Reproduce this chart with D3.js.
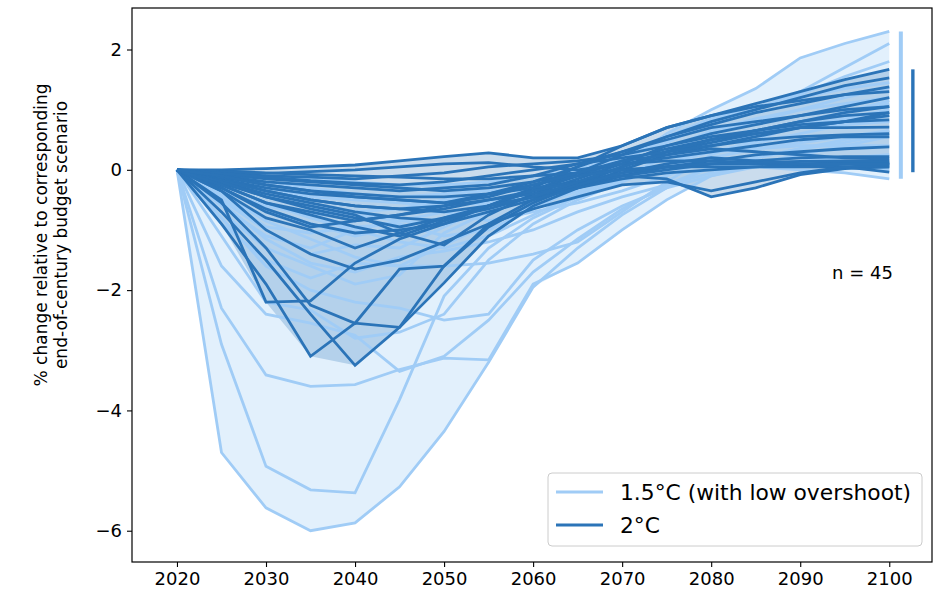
<!DOCTYPE html>
<html>
<head>
<meta charset="utf-8">
<script src="https://cdn.jsdelivr.net/npm/d3@7"></script>
<style>
  html, body { margin: 0; padding: 0; background: #fff; }
  svg { display: block; font-family: "DejaVu Sans", sans-serif; }
</style>
</head>
<body>
<svg id="chart" width="940" height="594"></svg>
<script>
// Model years shared by every scenario trajectory
const years = [2020, 2025, 2030, 2035, 2040, 2045, 2050, 2055, 2060, 2065, 2070, 2075, 2080, 2085, 2090, 2095, 2100];

// % change relative to the end-of-century budget scenario, 1.5°C (low overshoot) runs
const series15 = [
  [0,-4.70,-5.62,-6.00,-5.87,-5.27,-4.35,-3.20,-1.95,-1.30,-0.75,-0.30,0.05,0.20,0.35,0.50,0.65],
  [0,-2.90,-4.93,-5.32,-5.37,-3.82,-2.10,-1.30,-0.80,-0.45,-0.15,0.10,0.30,0.45,0.60,0.75,0.90],
  [0,-2.30,-3.41,-3.60,-3.57,-3.32,-3.13,-3.16,-1.90,-1.55,-1.00,-0.50,-0.10,0.10,0.25,0.40,0.55],
  [0,-1.60,-2.40,-2.55,-2.75,-3.35,-3.10,-2.50,-1.70,-1.15,-0.65,-0.25,0.05,0.20,0.35,0.45,0.60],
  [0,-1.10,-2.20,-2.33,-2.80,-2.70,-2.40,-1.50,-0.90,-0.50,-0.20,0.10,0.40,0.60,0.80,0.95,1.10],
  [0,-0.90,-1.50,-1.80,-1.55,-1.60,-1.60,-1.55,-1.40,-1.20,-0.70,-0.20,0.25,0.50,0.75,0.95,1.15],
  [0,-0.70,-1.30,-1.60,-1.90,-1.75,-1.05,-0.70,-0.45,-0.20,0.00,0.30,0.60,0.80,1.00,1.20,1.36],
  [0,-0.50,-1.00,-1.40,-1.25,-1.30,-0.95,-0.60,-0.30,-0.10,0.10,0.30,0.50,0.60,0.70,0.75,0.80],
  [0,-0.30,-0.70,-0.90,-1.10,-0.95,-0.80,-0.55,-0.40,-0.20,0.10,0.60,1.00,1.35,1.86,2.10,2.30],
  [0,-0.20,-0.45,-0.60,-0.75,-0.85,-0.90,-0.70,-0.45,-0.10,0.20,0.45,0.80,1.00,1.30,1.70,2.10],
  [0,-0.15,-0.30,-0.45,-0.50,-0.55,-0.60,-0.55,-0.30,0.00,0.25,0.50,0.75,1.00,1.25,1.55,1.80],
  [0,-0.25,-0.55,-0.80,-1.00,-1.20,-1.30,-1.10,-0.75,-0.40,-0.10,0.20,0.45,0.60,0.75,0.85,1.00],
  [0,-0.10,-0.20,-0.30,-0.40,-0.45,-0.40,-0.35,-0.30,-0.20,-0.10,0.00,0.10,0.05,0.00,-0.05,-0.15],
  [0,-0.40,-0.85,-1.15,-1.45,-1.60,-1.25,-0.90,-0.60,-0.35,-0.15,0.05,0.20,0.15,0.10,0.05,0.00],
  [0,-0.60,-1.10,-1.30,-1.00,-0.85,-0.70,-0.85,-0.70,-0.55,-0.35,-0.10,0.20,0.35,0.45,0.55,0.65],
  [0,-0.35,-0.60,-0.75,-0.70,-0.65,-0.50,-0.40,-0.30,-0.05,0.25,0.55,0.85,1.05,1.20,1.35,1.45],
  [0,-0.80,-1.60,-2.00,-2.20,-2.30,-2.50,-2.40,-1.50,-1.00,-0.60,-0.30,-0.10,0.05,0.15,0.20,0.25],
  [0,-0.05,-0.10,-0.15,-0.20,-0.25,-0.25,-0.20,-0.10,0.00,0.10,0.20,0.30,0.35,0.40,0.40,0.40],
  [0,-0.45,-0.95,-1.05,-0.95,-0.90,-1.10,-1.00,-0.65,-0.30,0.00,0.35,0.65,0.85,1.00,1.10,1.20],
  [0,-0.55,-1.15,-1.55,-1.70,-1.45,-1.35,-1.20,-1.00,-0.70,-0.45,-0.25,-0.05,0.05,0.10,0.12,0.10]
];

// Same measure for the 2°C runs
const series20 = [
  [0,-0.50,-2.20,-2.18,-1.55,-1.15,-0.90,-0.60,-0.35,-0.10,0.15,0.35,0.50,0.60,0.70,0.80,0.95],
  [0,-0.90,-1.90,-3.10,-2.55,-2.62,-1.88,-1.10,-0.60,-0.30,0.00,0.25,0.40,0.50,0.55,0.58,0.60],
  [0,-0.70,-1.50,-2.40,-3.25,-2.62,-1.60,-0.90,-0.50,-0.20,0.05,0.30,0.45,0.60,0.70,0.80,0.90],
  [0,-0.55,-1.30,-2.25,-2.55,-1.65,-1.60,-0.95,-0.55,-0.25,0.05,0.30,0.50,0.65,0.80,0.95,1.05],
  [0,-0.35,-0.80,-1.00,-1.30,-1.05,-1.25,-0.75,-0.40,-0.15,0.10,0.40,0.60,0.75,0.90,1.05,1.20],
  [0,-0.25,-0.55,-0.75,-0.95,-1.10,-0.85,-0.60,-0.35,-0.05,0.25,0.55,0.80,1.00,1.20,1.40,1.53],
  [0,-0.20,-0.40,-0.55,-0.70,-0.80,-0.85,-0.60,-0.30,0.05,0.40,0.70,0.90,1.10,1.30,1.50,1.67],
  [0,-0.15,-0.30,-0.40,-0.45,-0.50,-0.55,-0.40,-0.20,0.05,0.30,0.55,0.75,0.95,1.10,1.25,1.38],
  [0,-0.10,-0.20,-0.25,-0.30,-0.35,-0.30,-0.25,-0.10,0.10,0.30,0.50,0.70,0.80,0.90,1.00,1.05],
  [0,0.00,0.02,0.05,0.08,0.15,0.22,0.28,0.20,0.20,0.40,0.70,0.90,1.05,1.15,1.25,1.30],
  [0,-0.05,-0.10,-0.12,-0.15,-0.10,-0.05,0.05,0.10,0.15,0.25,0.40,0.55,0.65,0.75,0.80,0.83],
  [0,-0.08,-0.15,-0.20,-0.25,-0.30,-0.35,-0.30,-0.20,-0.05,0.10,0.20,0.30,0.40,0.50,0.55,0.55],
  [0,-0.15,-0.35,-0.50,-0.60,-0.65,-0.70,-0.60,-0.45,-0.30,-0.10,0.05,0.15,0.25,0.30,0.35,0.38],
  [0,-0.30,-0.70,-0.95,-0.85,-0.75,-0.65,-0.50,-0.40,-0.25,-0.10,0.00,0.10,0.15,0.20,0.22,0.22],
  [0,-0.12,-0.25,-0.35,-0.40,-0.45,-0.45,-0.40,-0.30,-0.20,-0.10,-0.15,-0.45,-0.30,-0.08,0.02,0.05],
  [0,-0.18,-0.35,-0.50,-0.60,-0.65,-0.60,-0.50,-0.35,-0.20,-0.05,0.05,0.10,0.10,0.10,0.12,0.12],
  [0,-0.30,-0.65,-0.90,-1.05,-1.00,-0.90,-0.70,-0.50,-0.30,-0.15,-0.05,0.00,0.05,0.08,0.10,0.10],
  [0,-0.02,-0.05,-0.08,-0.10,-0.12,-0.15,-0.15,-0.10,-0.05,0.00,0.05,0.05,0.05,0.05,0.05,0.05],
  [0,-0.22,-0.45,-0.60,-0.75,-1.05,-0.80,-0.65,-0.45,-0.25,-0.05,0.10,0.20,0.15,0.10,0.05,-0.04],
  [0,-0.35,-1.00,-1.40,-1.65,-1.50,-1.20,-0.90,-0.65,-0.45,-0.25,-0.20,-0.35,-0.20,-0.05,0.05,0.08],
  [0,-0.03,-0.06,-0.03,0.00,0.05,0.10,0.12,0.05,0.00,0.10,0.15,0.15,0.12,0.10,0.10,0.10],
  [0,-0.20,-0.45,-0.65,-0.80,-0.95,-0.80,-0.60,-0.45,-0.20,0.05,0.30,0.50,0.65,0.80,0.90,0.95],
  [0,-0.06,-0.12,-0.18,-0.22,-0.25,-0.20,-0.10,0.00,0.10,0.20,0.30,0.40,0.55,0.70,0.70,0.71],
  [0,-0.25,-0.55,-0.70,-0.85,-0.75,-0.60,-0.40,-0.25,-0.10,0.00,0.05,0.10,0.12,0.14,0.15,0.15],
  [0,-0.10,-0.25,-0.35,-0.45,-0.50,-0.55,-0.45,-0.25,-0.05,0.15,0.25,0.35,0.30,0.25,0.20,0.18]
];

const groupLabels = ["1.5°C (with low overshoot)", "2°C"];
const groupColors = ["#a0ccf6", "#2b74b8"];
const xTicks = [2020, 2030, 2040, 2050, 2060, 2070, 2080, 2090, 2100];
const yTicks = [2, 0, -2, -4, -6];
const sampleCount = series15.length + series20.length;

const svg = d3.select("#chart");
const plot = { left: 132, right: 932, top: 8, bottom: 562 };

const x = d3.scaleLinear().domain([2014.95, 2104.8]).range([plot.left, plot.right]);
const y = d3.scaleLinear().domain([-6.52, 2.69]).range([plot.bottom, plot.top]);

svg.append("defs").append("clipPath").attr("id", "plot-clip")
  .append("rect")
  .attr("x", plot.left).attr("y", plot.top)
  .attr("width", plot.right - plot.left).attr("height", plot.bottom - plot.top);

const body = svg.append("g").attr("clip-path", "url(#plot-clip)");
const groups = [series15, series20];

// min–max envelope for each group
const envelope = d3.area()
  .x(d => x(d.year))
  .y0(d => y(d.lo))
  .y1(d => y(d.hi));

groups.forEach((runs, g) => {
  const band = years.map((yr, i) => ({
    year: yr,
    lo: d3.min(runs, r => r[i]),
    hi: d3.max(runs, r => r[i])
  }));
  body.append("path")
    .datum(band)
    .attr("d", envelope)
    .attr("fill", groupColors[g])
    .attr("fill-opacity", g === 0 ? 0.3 : 0.25)
    .attr("stroke", "none");
});

// individual trajectories
const line = d3.line().x((d, i) => x(years[i])).y(d => y(d));
const lineLayer = body.append("g").attr("fill", "none").attr("stroke-width", 2.8)
  .attr("stroke-linejoin", "miter");
series15.forEach(r => {
  lineLayer.append("path").attr("d", line(r)).attr("stroke", groupColors[0]);
});
series20.forEach(r => {
  lineLayer.append("path").attr("d", line(r)).attr("stroke", groupColors[1]);
});

// end-of-century spread markers to the right of 2100
const spreadYears = [2101.3, 2102.65];
groups.forEach((runs, g) => {
  const ends = runs.map(r => r[r.length - 1]);
  body.append("line")
    .attr("x1", x(spreadYears[g])).attr("x2", x(spreadYears[g]))
    .attr("y1", y(d3.max(ends))).attr("y2", y(d3.min(ends)))
    .attr("stroke", groupColors[g])
    .attr("stroke-width", g === 0 ? 4 : 3.4);
});

// axes
const xAxis = svg.append("g")
  .attr("transform", `translate(0,${plot.bottom})`)
  .call(d3.axisBottom(x).tickValues(xTicks).tickFormat(d3.format("d")).tickSize(5).tickPadding(5));
const yAxis = svg.append("g")
  .attr("transform", `translate(${plot.left},0)`)
  .call(d3.axisLeft(y).tickValues(yTicks).tickSize(5).tickPadding(5));

[xAxis, yAxis].forEach(a => {
  a.select(".domain").remove();
  a.selectAll(".tick line").attr("stroke", "#000").attr("stroke-width", 1.1);
  a.selectAll(".tick text").attr("fill", "#000")
    .style("font-family", "DejaVu Sans, sans-serif").style("font-size", "18px");
});

// frame
svg.append("rect")
  .attr("x", plot.left).attr("y", plot.top)
  .attr("width", plot.right - plot.left).attr("height", plot.bottom - plot.top)
  .attr("fill", "none").attr("stroke", "#000").attr("stroke-width", 1.2);

// y label
const yLabel = svg.append("text")
  .attr("transform", "translate(0,235) rotate(-90)")
  .attr("text-anchor", "middle")
  .style("font-size", "17px")
  .attr("fill", "#000");
yLabel.append("tspan").attr("x", 0).attr("y", 47).text("% change relative to corresponding");
yLabel.append("tspan").attr("x", 0).attr("y", 67).text("end-of-century budget scenario");

// sample size annotation
svg.append("text")
  .attr("x", 832).attr("y", 279)
  .style("font-size", "18px")
  .attr("fill", "#000")
  .text(`n = ${sampleCount}`);

// legend
const legend = svg.append("g");
legend.append("rect")
  .attr("x", 548).attr("y", 473).attr("width", 374).attr("height", 73)
  .attr("rx", 4).attr("ry", 4)
  .attr("fill", "#fff").attr("fill-opacity", 0.8)
  .attr("stroke", "#cccccc").attr("stroke-width", 1);
groupLabels.forEach((lab, g) => {
  const rowY = 492 + g * 33;
  legend.append("line")
    .attr("x1", 556).attr("x2", 603).attr("y1", rowY).attr("y2", rowY)
    .attr("stroke", groupColors[g]).attr("stroke-width", 2.8);
  legend.append("text")
    .attr("x", 620).attr("y", rowY + 8)
    .style("font-size", "21.8px").attr("fill", "#000")
    .text(lab);
});
</script>
</body>
</html>
